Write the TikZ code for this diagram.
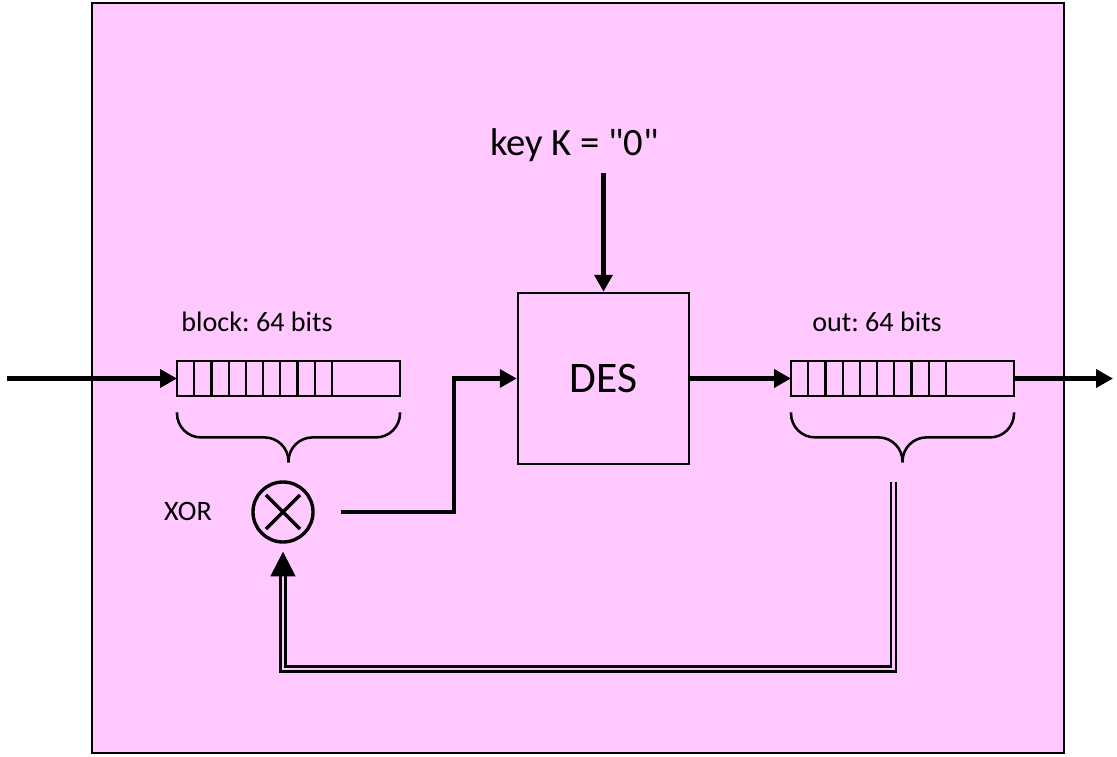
\documentclass[tikz,border=0pt]{standalone}
\usepackage{fontspec}
\setmainfont{Carlito}[Ligatures=TeXOff]
\usetikzlibrary{arrows.meta}

\definecolor{bgpink}{RGB}{255,201,255}

\tikzset{
    reg/.style={draw, line width=1.6pt, minimum width=5.575cm, minimum height=0.875cm, inner sep=0pt, outer sep=0pt},
    flow/.style={line width=3.3pt, -{Triangle[length=4.2mm, width=4.4mm]}},
    lbl/.style={font=\fontsize{20}{24}\selectfont},
    fb/.style={line width=1.8pt, double=bgpink, double distance=2pt},
    brc/.style={line width=1.8pt, rounded corners=6mm},
}

\begin{document}
\frenchspacing
\begin{tikzpicture}
    \useasboundingbox (0,0) rectangle (27.925,18.9);
    \draw[fill=bgpink, line width=1.9pt] (2.3,0.075) rectangle (26.6,18.825);

    % registers and the cipher box
    \node[reg] (blk) at (7.2125,9.4375) {};
    \node[reg] (outreg) at (22.5625,9.4375) {};
    \foreach \i in {1,...,9} {
        \draw[line width=1.6pt] ([xshift=\i*0.4306cm]blk.north west) -- ([xshift=\i*0.4306cm]blk.south west);
        \draw[line width=1.6pt] ([xshift=\i*0.4306cm]outreg.north west) -- ([xshift=\i*0.4306cm]outreg.south west);
    }
    \node[lbl] (blklbl) at (6.425,10.85) {block: 64 bits};
    \node[lbl] (outlbl) at (21.925,10.85) {out: 64 bits};
    \node[draw, line width=1.8pt, minimum size=4.275cm, font=\fontsize{31}{37}\selectfont] (des) at (15.0875,9.4375) {DES};
    \node[font=\fontsize{27.5}{33}\selectfont] (key) at (14.3625,15.275) {key K = "0"};

    % braces under the registers
    \draw[brc] ([yshift=-4.1mm]blk.south west) |- ++(2.7875,-0.625) -- ++(0,-0.625);
    \draw[brc] ([yshift=-4.1mm]blk.south east) |- ++(-2.7875,-0.625) -- ++(0,-0.625);
    \draw[brc] ([yshift=-4.1mm]outreg.south west) |- ++(2.7875,-0.625) -- ++(0,-0.625);
    \draw[brc] ([yshift=-4.1mm]outreg.south east) |- ++(-2.7875,-0.625) -- ++(0,-0.625);

    % xor
    \node[draw, circle, line width=2.4pt, minimum size=1.5cm, inner sep=0pt] (xor) at (7.075,6.1) {};
    \draw[line width=2.4pt, shorten <=1.9mm, shorten >=1.9mm] (xor.north west) -- (xor.south east);
    \draw[line width=2.4pt, shorten <=1.9mm, shorten >=1.9mm] (xor.north east) -- (xor.south west);
    \node[lbl] (xorlbl) at (4.7,6.125) {XOR};

    \coordinate (in) at (0.175,9.4375);
    \coordinate (out) at (27.825,9.4375);
    \coordinate (k) at (15.0875,14.575);
    \coordinate (bend) at (11.35,9.4375);
    \coordinate (fbtop) at (22.3375,6.85);
    \coordinate (fbbot) at (22.3375,2.175);

    % data path
    \draw[flow] (in) -- (blk);
    \draw[flow] (k) -- (des);
    \draw[flow] (des) -- (outreg);
    \draw[flow] (outreg) -- (out);
    \draw[flow, shorten <=6.5mm] (xor.east) -| (bend) -- (des.west);

    % feedback
    \draw[fb, -{Triangle[length=6.2mm, width=6.2mm]}, shorten >=2mm] (fbtop) -- (fbbot) -| (xor);
\end{tikzpicture}
\end{document}
